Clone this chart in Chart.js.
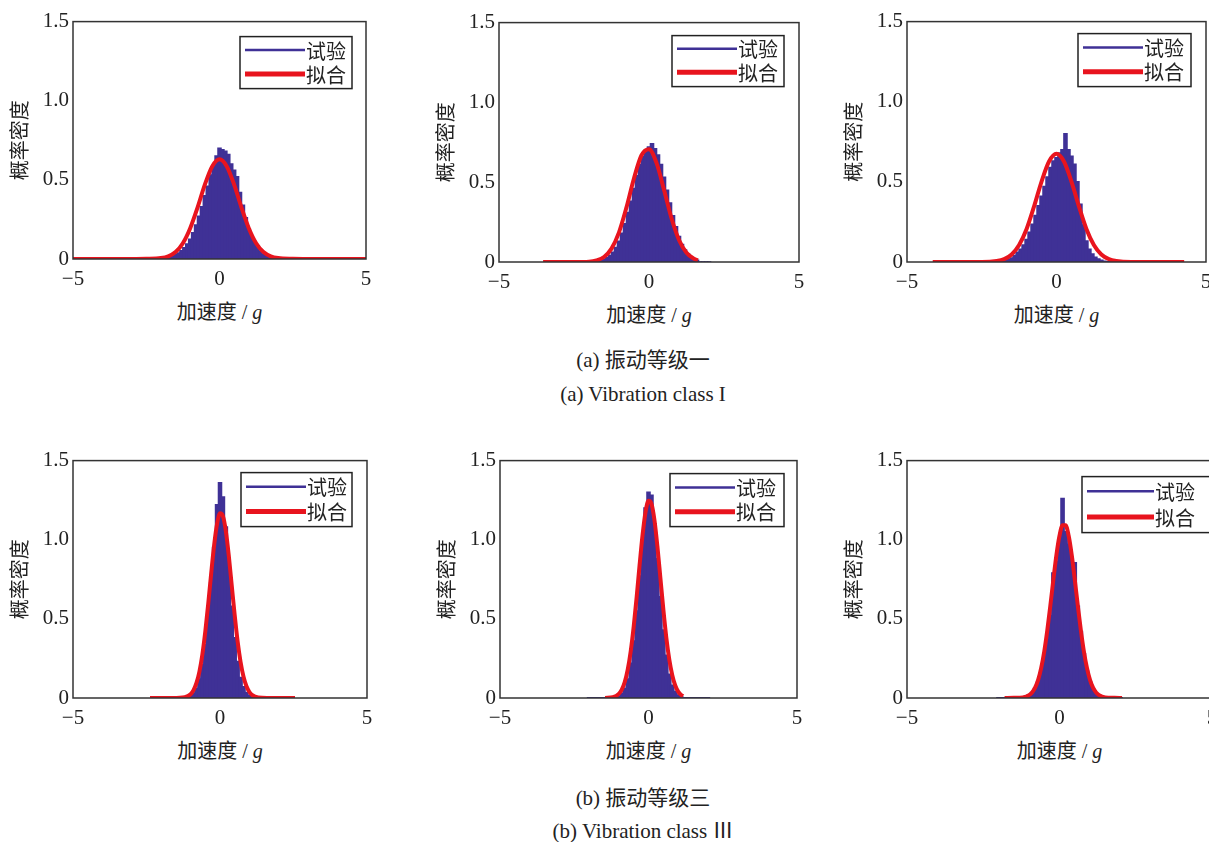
<!DOCTYPE html>
<html>
<head>
<meta charset="utf-8">
<script src="https://cdn.jsdelivr.net/npm/chart.js@4.4.1/dist/chart.umd.min.js"></script>
<style>
html, body { margin: 0; padding: 0; background: #fff; }
body { width: 1209px; height: 842px; position: relative; overflow: hidden; }
canvas { position: absolute; }
.xt { position: absolute; width: 200px; text-align: center; font: 20px "Liberation Serif", "Noto Sans CJK SC", serif; color: #222; line-height: 1; }
.cap { position: absolute; left: 443px; width: 400px; text-align: center; font: 21px "Liberation Serif", "Noto Sans CJK SC", serif; color: #222; line-height: 1; }
</style>
</head>
<body>
<div class="cap" style="top:350px">(a) 振动等级一</div>
<div class="cap" style="top:384px">(a) Vibration class I</div>
<div class="cap" style="top:788px">(b) 振动等级三</div>
<div class="cap" style="top:821px">(b) Vibration class Ⅲ</div>
<script>
// tick labels
const xTickLabels = ["\u22125", "0", "5"];
const yTickLabels = ["0", "0.5", "1.0", "1.5"];

// histogram bin centres (g), shared by all panels
const binX = [-2.0,-1.9,-1.8,-1.7,-1.6,-1.5,-1.4,-1.3,-1.2,-1.1,-1.0,-0.9,-0.8,-0.7,-0.6,-0.5,-0.4,-0.3,-0.2,-0.1,
              0.0,0.1,0.2,0.3,0.4,0.5,0.6,0.7,0.8,0.9,1.0,1.1,1.2,1.3,1.4,1.5,1.6,1.7,1.8,1.9,2.0];

// (a) class I - test histograms
const histA1 = [0.003,0.005,0.008,0.012,0.018,0.027,0.038,0.052,0.07,0.095,0.125,0.165,0.215,0.27,0.33,0.40,0.46,0.53,0.59,0.65,
                0.70,0.69,0.68,0.66,0.60,0.56,0.52,0.42,0.34,0.26,0.19,0.14,0.10,0.07,0.045,0.03,0.02,0.012,0.007,0.004,0.002];
const histA2 = [0.001,0.002,0.003,0.005,0.009,0.016,0.026,0.04,0.06,0.09,0.13,0.18,0.24,0.31,0.38,0.46,0.54,0.61,0.66,0.70,
                0.72,0.74,0.71,0.67,0.61,0.53,0.45,0.37,0.29,0.22,0.16,0.11,0.075,0.05,0.03,0.018,0.01,0,0,0,0];
const histA3 = [0.002,0.004,0.007,0.011,0.017,0.025,0.04,0.06,0.08,0.105,0.14,0.185,0.235,0.29,0.35,0.41,0.47,0.53,0.59,0.63,
                0.65,0.68,0.70,0.80,0.70,0.66,0.61,0.50,0.36,0.23,0.13,0.08,0.05,0.03,0.018,0.01,0.005,0.002,0.001,0,0];
// (b) class III - test histograms
const histB1 = [0.002,0.002,0.002,0.002,0.002,0.002,0.002,0.002,0.004,0.008,0.015,0.03,0.06,0.12,0.21,0.34,0.52,0.73,0.95,1.22,
                1.36,1.27,1.08,0.82,0.58,0.38,0.23,0.13,0.07,0.035,0.016,0.008,0.004,0.002,0.002,0.002,0.002,0.002,0.002,0.002,0.002];
const histB2 = [0.002,0.002,0.002,0.002,0.002,0.002,0.002,0.002,0.002,0.002,0.01,0.03,0.06,0.12,0.22,0.36,0.55,0.77,1.0,1.2,
                1.30,1.28,1.1,0.88,0.64,0.43,0.27,0.15,0.08,0.04,0.018,0.008,0.002,0.002,0.002,0.002,0.002,0.002,0.002,0.002,0.002];
const histB3 = [0.002,0.002,0.002,0.002,0.002,0.002,0.002,0.002,0.005,0.01,0.02,0.035,0.06,0.1,0.16,0.25,0.37,0.52,0.79,0.86,
                1.0,1.26,1.05,0.97,0.88,0.855,0.58,0.42,0.28,0.17,0.1,0.055,0.03,0.015,0.007,0.002,0.002,0.002,0.002,0.002,0.002];

// fitted curves
const fitXA1 = [-5,-3,-2.5,-2,-1.75,-1.5,-1.25,-1,-0.75,-0.5,-0.25,0,0.25,0.5,0.75,1,1.25,1.5,1.75,2,2.5,3,5];
const fitYA1 = [0,0,0.001,0.006,0.017,0.044,0.10,0.195,0.325,0.47,0.585,0.63,0.585,0.47,0.325,0.195,0.10,0.044,0.017,0.006,0.001,0,0];
const fitXA2 = [-3.53,-3,-2.5,-2,-1.75,-1.5,-1.25,-1,-0.75,-0.5,-0.25,0,0.25,0.5,0.75,1,1.25,1.5,1.63];
const fitYA2 = [0,0,0,0.002,0.01,0.031,0.084,0.186,0.343,0.525,0.669,0.707,0.621,0.453,0.274,0.138,0.058,0.02,0.011];
const fitXA3 = [-4.14,-3,-2.5,-2,-1.75,-1.5,-1.25,-1,-0.75,-0.5,-0.25,0,0.25,0.5,0.75,1,1.25,1.5,1.75,2,2.5,3,4.27];
const fitYA3 = [0,0,0,0.006,0.018,0.047,0.106,0.206,0.347,0.502,0.627,0.675,0.627,0.502,0.347,0.206,0.106,0.047,0.018,0.006,0,0,0];
const fitXB1 = [-2.38,-1.6,-1.2,-1.0,-0.9,-0.8,-0.7,-0.6,-0.5,-0.4,-0.3,-0.2,-0.1,0,0.1,0.2,0.3,0.4,0.5,0.6,0.7,0.8,0.9,1.0,1.1,1.3,1.6,2.55];
const fitYB1 = [0,0,0.005,0.024,0.05,0.095,0.167,0.275,0.42,0.596,0.787,0.965,1.10,1.167,1.149,1.053,0.897,0.71,0.523,0.357,0.227,0.134,0.074,0.038,0.018,0.003,0,0];
const fitXB2 = [-1.46,-1.2,-1.0,-0.9,-0.8,-0.7,-0.6,-0.5,-0.4,-0.3,-0.2,-0.1,0,0.1,0.2,0.3,0.4,0.5,0.6,0.7,0.8,0.9,1.0,1.1,1.17];
const fitYB2 = [0,0.005,0.026,0.053,0.101,0.179,0.294,0.449,0.636,0.84,1.03,1.175,1.246,1.227,1.125,0.958,0.759,0.559,0.381,0.243,0.144,0.079,0.04,0.019,0.012];
const fitXB3 = [-1.8,-1.5,-1.2,-1.0,-0.9,-0.8,-0.7,-0.6,-0.5,-0.4,-0.3,-0.2,-0.1,0,0.1,0.2,0.3,0.4,0.5,0.6,0.7,0.8,0.9,1.0,1.1,1.2,1.3,1.5,1.8,2.05];
const fitYB3 = [0,0.001,0.004,0.018,0.035,0.065,0.115,0.19,0.294,0.428,0.584,0.75,0.905,1.025,1.091,1.091,1.025,0.905,0.75,0.584,0.428,0.294,0.19,0.115,0.065,0.035,0.018,0.004,0.001,0];

const hists = [histA1, histA2, histA3, histB1, histB2, histB3];
const fitXs = [fitXA1, fitXA2, fitXA3, fitXB1, fitXB2, fitXB3];
const fitYs = [fitYA1, fitYA2, fitYA3, fitYB1, fitYB2, fitYB3];

const PURPLE = "#3f3196";
const RED = "#e8141e";
const INK = "#222";

// plot boxes (page px) and legend box placement inside each plot
const panels = [
  { L: 73,  T: 17,  R: 366,  B: 259, lg: { right: 14, top: 15, w: 112, h: 52, line: 60 } },
  { L: 499, T: 18,  R: 799,  B: 262, lg: { right: 15, top: 13, w: 112, h: 51, line: 60 } },
  { L: 907, T: 17,  R: 1206, B: 262, lg: { right: 15, top: 12, w: 113, h: 53, line: 60 } },
  { L: 73,  T: 456, R: 367,  B: 698, lg: { right: 15, top: 12, w: 111, h: 54, line: 60 } },
  { L: 500, T: 456, R: 797,  B: 698, lg: { right: 13, top: 13, w: 114, h: 53, line: 60 } },
  { L: 907, T: 456, R: 1212, B: 698, lg: { right: 0,  top: 16, w: 130, h: 56, line: 67 } }
];

// box round the plot area
const frame = {
  id: "frame",
  afterDatasetsDraw(chart) {
    const { ctx, chartArea: a } = chart;
    ctx.save();
    ctx.strokeStyle = "#333";
    ctx.lineWidth = 1.5;
    ctx.strokeRect(a.left, a.top, a.right - a.left, a.bottom - a.top);
    ctx.restore();
  }
};

// matlab style legend box in the top right corner
const boxLegend = {
  id: "boxLegend",
  afterDatasetsDraw(chart, args, o) {
    const { ctx, chartArea: a } = chart;
    const x = a.right - o.right - o.w;
    const y = a.top + o.top;
    ctx.save();
    ctx.fillStyle = "#fff";
    ctx.fillRect(x, y, o.w, o.h);
    ctx.strokeStyle = "#222";
    ctx.lineWidth = 1.5;
    ctx.strokeRect(x, y, o.w, o.h);
    ctx.font = '20px "Noto Sans CJK SC"';
    ctx.textBaseline = "middle";
    ctx.fillStyle = INK;
    chart.data.datasets.forEach((ds, i) => {
      const cy = y + o.h * (i === 0 ? 0.26 : 0.72);
      ctx.beginPath();
      ctx.strokeStyle = i === 0 ? PURPLE : RED;
      ctx.lineWidth = i === 0 ? 2.5 : 5;
      ctx.moveTo(x + 5, cy);
      ctx.lineTo(x + 5 + o.line, cy);
      ctx.stroke();
      ctx.fillText(ds.label, x + 6 + o.line, cy + 1);
    });
    ctx.restore();
  }
};

const tickFont = { family: "Liberation Serif", size: 21 };

function makeChart(i) {
  const p = panels[i];
  const w = p.R - p.L + 66 + 14;
  const h = p.B - p.T + 12 + 32;
  const cv = document.createElement("canvas");
  cv.width = w; cv.height = h;
  cv.style.left = (p.L - 66) + "px";
  cv.style.top = (p.T - 12) + "px";
  cv.style.width = w + "px";
  cv.style.height = h + "px";
  document.body.appendChild(cv);

  const xt = document.createElement("div");
  xt.className = "xt";
  xt.style.left = ((p.L + p.R) / 2 - 100) + "px";
  xt.style.top = (p.B + 43) + "px";
  xt.innerHTML = "加速度 / <i>g</i>";
  document.body.appendChild(xt);

  new Chart(cv, {
    type: "bar",
    data: {
      datasets: [
        {
          label: "试验",
          data: binX.map((x, k) => ({ x: x, y: hists[i][k] })),
          backgroundColor: PURPLE,
          borderWidth: 0,
          inflateAmount: 0.8,
          barPercentage: 1,
          categoryPercentage: 1,
          order: 2
        },
        {
          type: "line",
          label: "拟合",
          data: fitXs[i].map((x, k) => ({ x: x, y: fitYs[i][k] })),
          borderColor: RED,
          borderWidth: 4,
          pointRadius: 0,
          fill: false,
          cubicInterpolationMode: "monotone",
          order: 1
        }
      ]
    },
    options: {
      responsive: false,
      animation: false,
      devicePixelRatio: 1,
      layout: { padding: { left: 0, top: 12, right: 14, bottom: 0 } },
      plugins: {
        legend: { display: false },
        tooltip: { enabled: false },
        boxLegend: p.lg
      },
      scales: {
        x: {
          type: "linear",
          min: -5, max: 5,
          offset: false,
          grid: { display: false, drawTicks: false },
          border: { display: false },
          ticks: {
            stepSize: 5, padding: 8, autoSkip: false, maxRotation: 0,
            font: tickFont, color: INK,
            callback: (v, k) => xTickLabels[k]
          },
          afterFit: s => { s.height = 32; }
        },
        y: {
          min: 0, max: 1.5,
          grid: { display: false, drawTicks: false },
          border: { display: false },
          ticks: {
            stepSize: 0.5, padding: 4, autoSkip: false,
            font: tickFont, color: INK,
            callback: (v, k) => yTickLabels[k]
          },
          title: {
            display: true, text: "概率密度", color: INK, padding: 0,
            font: { family: "Noto Sans CJK SC", size: 20 }
          },
          afterFit: s => { s.width = 66; }
        }
      }
    },
    plugins: [frame, boxLegend]
  });
}

for (let i = 0; i < panels.length; i++) makeChart(i);
</script>
</body>
</html>
